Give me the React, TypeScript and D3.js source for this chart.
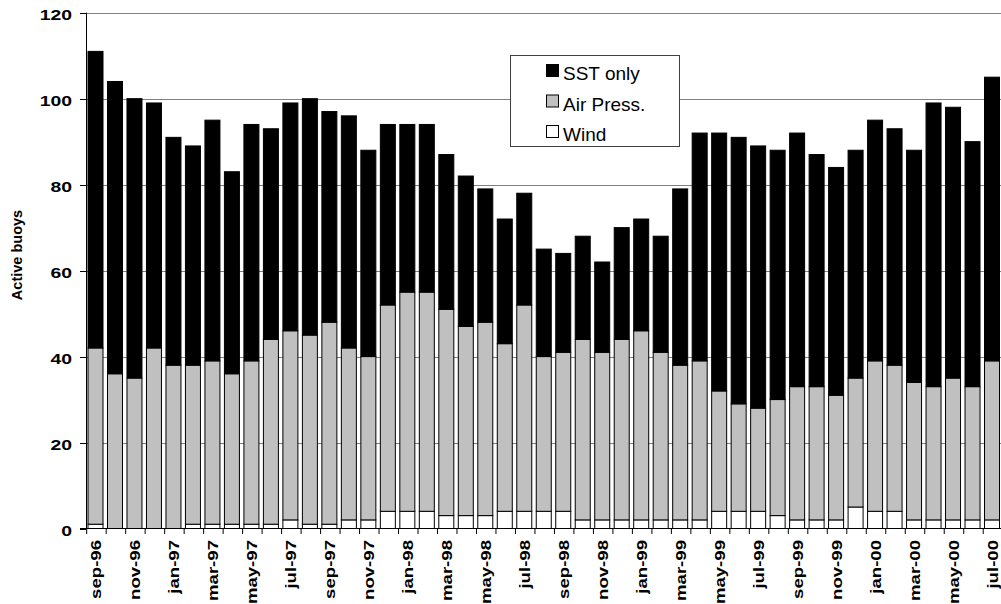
import React from "react";
import * as d3 from "d3";

const months = [
  "sep-96","oct-96","nov-96","dec-96","jan-97","feb-97","mar-97","apr-97","may-97","jun-97","jul-97","aug-97",
  "sep-97","oct-97","nov-97","dec-97","jan-98","feb-98","mar-98","apr-98","may-98","jun-98","jul-98","aug-98",
  "sep-98","oct-98","nov-98","dec-98","jan-99","feb-99","mar-99","apr-99","may-99","jun-99","jul-99","aug-99",
  "sep-99","oct-99","nov-99","dec-99","jan-00","feb-00","mar-00","apr-00","may-00","jun-00","jul-00",
];

// Wind buoys
const wind = [1,0,0,0,0,1,1,1,1,1,2,1, 1,2,2,4,4,4,3,3,3,4,4,4, 4,2,2,2,2,2,2,2,4,4,4,3, 2,2,2,5,4,4,2,2,2,2,2];
// Air pressure buoys
const airPress = [41,36,35,42,38,37,38,35,38,43,44,44, 47,40,38,48,51,51,48,44,45,39,48,36, 37,42,39,42,44,39,36,37,28,25,24,27, 31,31,29,30,35,34,32,31,33,31,37];
// SST only buoys
const sstOnly = [69,68,65,57,53,51,56,47,55,49,53,55, 49,54,48,42,39,39,36,35,31,29,26,25, 23,24,21,26,26,27,41,53,60,62,61,58, 59,54,53,53,56,55,54,66,63,57,66];

const yTicks = [0, 20, 40, 60, 80, 100, 120];
const keys = ["wind", "air", "sst"];
const fills: Record<string, string> = { wind: "#ffffff", air: "#c0c0c0", sst: "#000000" };
const legendItems = [
  { key: "sst", label: "SST only" },
  { key: "air", label: "Air Press." },
  { key: "wind", label: "Wind" },
];

export default function App() {
  const rows = months.map((m, i) => ({ month: m, wind: wind[i], air: airPress[i], sst: sstOnly[i] }));
  const x = d3.scaleBand<string>().domain(months).range([86.5, 1002.5]).paddingInner(0).paddingOuter(0);
  const y = d3.scaleLinear().domain([0, 120]).range([528.5, 12.7]);
  const series = d3.stack<any>().keys(keys)(rows);
  const bw = x.bandwidth();
  const barW = 15;
  const barOff = 1.5;
  const font = "'Liberation Sans', Arial, Helvetica, sans-serif";

  return (
    <svg width={1001} height={604} style={{ position: "absolute", left: 0, top: 0, background: "#fff" }}>
      <rect x={0} y={0} width={1001} height={604} fill="#fff" />
      {/* gridlines */}
      {yTicks.filter((t) => t > 0).map((t) => (
        <line key={"g" + t} x1={86.5} x2={1001} y1={Math.round(y(t)) + 0.5} y2={Math.round(y(t)) + 0.5} stroke="#808080" strokeWidth={1} />
      ))}
      {/* bars */}
      {series.map((s) => (
        <g key={s.key}>
          {s.map((d, i) => {
            const y0 = y(d[0]);
            const y1 = y(d[1]);
            if (d[1] - d[0] <= 0) return null;
            return (
              <rect
                key={i}
                x={(x(months[i]) as number) + barOff}
                y={y1}
                width={barW}
                height={y0 - y1}
                fill={fills[s.key]}
                stroke="#000"
                strokeWidth={1}
              />
            );
          })}
        </g>
      ))}
      {/* axes */}
      <line x1={86.5} x2={86.5} y1={12.7} y2={528.5} stroke="#000" strokeWidth={1} />
      <line x1={80} x2={1001} y1={528.5} y2={528.5} stroke="#000" strokeWidth={1} />
      {yTicks.map((t) => (
        <g key={"yt" + t}>
          <line x1={80} x2={86.5} y1={Math.round(y(t)) + 0.5} y2={Math.round(y(t)) + 0.5} stroke="#000" strokeWidth={1} />
          <text
            transform={`translate(72,${y(t) + 7.5}) scale(1.25,1)`}
            textAnchor="end"
            fontFamily={font}
            fontWeight="bold"
            fontSize={15.5}
            fill="#000"
          >
            {t}
          </text>
        </g>
      ))}
      {months.map((m, i) => (
        <line key={"xt" + i} x1={(x(m) as number) + 0.2} x2={(x(m) as number) + 0.2} y1={528.5} y2={534} stroke="#000" strokeWidth={1} />
      ))}
      {months.map((m, i) =>
        i % 2 === 0 ? (
          <text
            key={"xl" + i}
            transform={`translate(${(x(m) as number) + barOff + barW / 2 + 5.5},540) rotate(-90) scale(1.2,1)`}
            textAnchor="end"
            fontFamily={font}
            fontWeight="bold"
            fontSize={15.5}
            fill="#000"
          >
            {m}
          </text>
        ) : null
      )}
      {/* y title */}
      <text
        transform="translate(21.5,255) rotate(-90)"
        textAnchor="middle"
        fontFamily={font}
        fontWeight="bold"
        fontSize={14.5}
        fill="#000"
      >
        Active buoys
      </text>
      {/* legend */}
      <rect x={510.5} y={55.5} width={169} height={91} fill="#fff" stroke="#404040" strokeWidth={1} />
      {legendItems.map((it, k) => (
        <g key={it.key}>
          <rect x={546.5} y={64.5 + k * 30.5} width={12} height={12} fill={fills[it.key]} stroke="#000" strokeWidth={1} />
          <text x={563} y={80 + k * 30.5} fontFamily={font} fontSize={19} fill="#000">
            {it.label}
          </text>
        </g>
      ))}
    </svg>
  );
}
